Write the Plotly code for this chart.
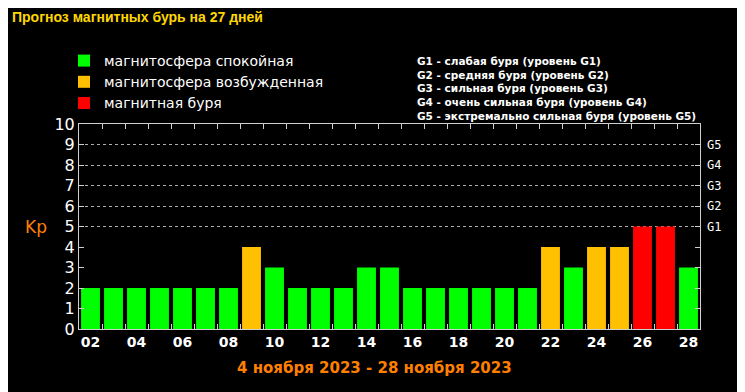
import plotly.graph_objects as go

# ---- data ----
days = list(range(2, 29))
kp = [2, 2, 2, 2, 2, 2, 2, 4, 3, 2, 2, 2, 3, 3, 2, 2, 2, 2, 2, 2, 4, 3, 4, 4, 5, 5, 3]
tick_days = list(range(2, 29, 2))
tick_labels = [f"{d:02d}" for d in tick_days]
y_ticks = list(range(0, 11))
g_levels = [5, 6, 7, 8, 9]
g_labels = ["G1", "G2", "G3", "G4", "G5"]
g_desc = [
    "G1 - слабая буря (уровень G1)",
    "G2 - средняя буря (уровень G2)",
    "G3 - сильная буря (уровень G3)",
    "G4 - очень сильная буря (уровень G4)",
    "G5 - экстремально сильная буря (уровень G5)",
]
cat_names = ["магнитосфера спокойная", "магнитосфера возбужденная", "магнитная буря"]
cat_colors = ["#00FF00", "#FFC000", "#FF0000"]
title_text = "Прогноз магнитных бурь на 27 дней"
period_text = "4 ноября 2023 - 28 ноября 2023"


def category(v):
    if v <= 3:
        return 0
    if v == 4:
        return 1
    return 2


fig = go.Figure()
for ci, (name, col) in enumerate(zip(cat_names, cat_colors)):
    xs = [d for d, v in zip(days, kp) if category(v) == ci]
    ys = [v for v in kp if category(v) == ci]
    fig.add_trace(go.Bar(x=xs, y=ys, name=name, marker=dict(color=col, line=dict(width=0)),
                         width=0.82))

# page has an 8px body margin, so the figure is 737x384 drawn at (8, 8)
W, H = 737, 384
OFF = 8
axis_col = "#D0D0D0"
fig.update_layout(
    width=W, height=H,
    paper_bgcolor="#000000", plot_bgcolor="#000000",
    margin=dict(l=79 - OFF, r=45, t=124 - OFF, b=63, autoexpand=False),
    barmode="overlay",
    showlegend=True,
    legend=dict(xref="container", yref="container", x=(82 - OFF - 18) / W,
                y=1 - (61 - OFF - 16) / H,
                xanchor="left", yanchor="top",
                font=dict(family="DejaVu Sans", size=14, color="#FFFFFF"),
                bgcolor="rgba(0,0,0,0)", itemwidth=30, tracegroupgap=0,
                traceorder="normal"),
    title=dict(text=title_text, x=(12 - OFF) / W, xanchor="left", y=1 - (17 - OFF) / H,
               yanchor="middle",
               font=dict(family="Liberation Sans", size=14, color="#FFD700", weight="bold")),
    xaxis=dict(range=[1.5, 28.5], tickmode="array", tickvals=tick_days, ticktext=tick_labels,
               ticks="", showgrid=False, zeroline=False, showline=True, linecolor=axis_col,
               linewidth=1, mirror="allticks", automargin=False,
               tickfont=dict(family="DejaVu Sans", size=14, color="#FFFFFF", weight="bold"),
               minor=dict(tickmode="array", tickvals=[d + 0.5 for d in days[:-1]],
                          ticks="inside", ticklen=5, tickcolor=axis_col, showgrid=False)),
    yaxis=dict(range=[0, 10], tickmode="array", tickvals=y_ticks, ticks="inside", ticklen=5,
               tickcolor=axis_col, showgrid=False, zeroline=False, showline=True,
               linecolor=axis_col, linewidth=1, mirror="allticks", automargin=False,
               tickfont=dict(family="DejaVu Sans", size=16, color="#FFFFFF"),
               minor=dict(tickmode="array", tickvals=g_levels, ticks="", showgrid=True,
                          gridcolor="#B0B0B0", griddash="dot", gridwidth=1)),
)

# Kp label
fig.add_annotation(text="Kp", xref="paper", yref="y", x=(49 - 79) / 621, xanchor="right",
                   y=5, showarrow=False,
                   font=dict(family="DejaVu Sans", size=17, color="#FF8000"))

# G labels on right
for lvl, lab in zip(g_levels, g_labels):
    fig.add_annotation(text=lab, xref="paper", yref="y", x=1, y=lvl, xanchor="left",
                       xshift=5, showarrow=False,
                       font=dict(family="DejaVu Sans Mono", size=12, color="#FFFFFF"))

# G descriptions
fig.add_annotation(text="<br>".join(g_desc), xref="paper", yref="paper",
                   x=(415 - 79) / 621, y=(329 - 53) / 205, xanchor="left", yanchor="top",
                   align="left", showarrow=False,
                   font=dict(family="DejaVu Sans", size=10.5, color="#FFFFFF", weight="bold"))

# period text
fig.add_annotation(text=period_text, xref="paper", yref="paper", x=0.476,
                   y=(329 - 368) / 205, xanchor="center", yanchor="middle", showarrow=False,
                   font=dict(family="DejaVu Sans", size=15, color="#FF8000", weight="bold"))

fig.write_html("out.html")
